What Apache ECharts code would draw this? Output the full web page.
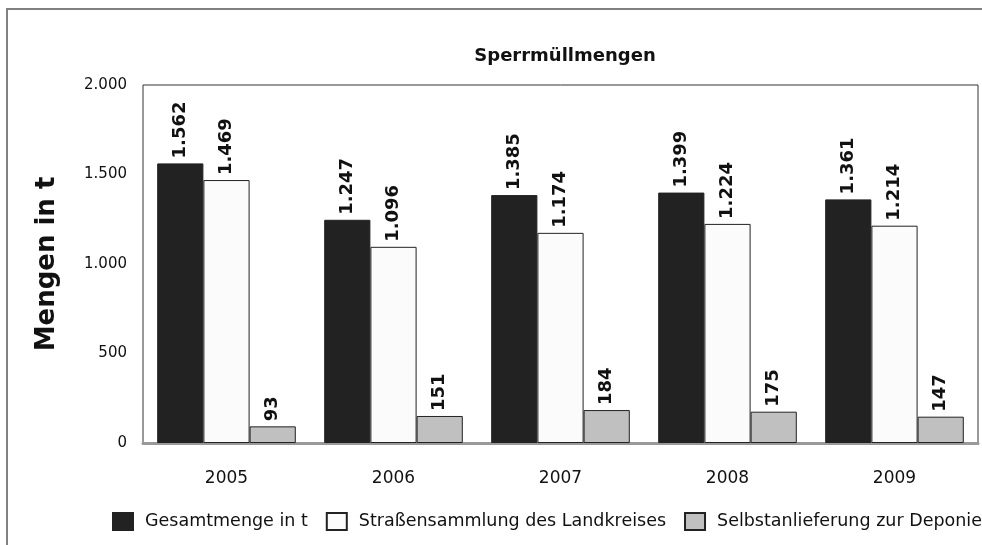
<!DOCTYPE html>
<html>
<head>
<meta charset="utf-8">
<script src="https://cdn.jsdelivr.net/npm/echarts@6/dist/echarts.min.js"></script>
<style>
  html, body { margin: 0; padding: 0; background: #fff; }
  #chart { width: 982px; height: 545px; }
</style>
</head>
<body>
<div id="chart"></div>
<script>
const years = ['2005', '2006', '2007', '2008', '2009']
const gesamt = [1562, 1247, 1385, 1399, 1361]
const strasse = [1469, 1096, 1174, 1224, 1214]
const selbst = [93, 151, 184, 175, 147]
const seriesNames = ['Gesamtmenge in t', 'Straßensammlung des Landkreises', 'Selbstanlieferung zur Deponie']

const chart = echarts.init(document.getElementById('chart'))

const font = 'DejaVu Sans, Arial, sans-serif'

// Zahlen mit Punkt als Tausendertrenner
const fmt = v => String(v).replace(/\B(?=(\d{3})+(?!\d))/g, '.')

const label = {
  show: true,
  position: 'top',
  rotate: 90,
  align: 'left',
  verticalAlign: 'middle',
  distance: 5,
  color: '#111',
  fontSize: 18,
  fontWeight: 'bold',
  fontFamily: font,
  formatter: p => fmt(p.value)
}

const makeBar = (name, data, color) => ({
  name,
  type: 'bar',
  data,
  barGap: 0,
  barCategoryGap: '17%',
  itemStyle: { color, borderColor: '#222', borderWidth: 1 },
  label
})

const option = {
  animation: false,
  textStyle: { fontFamily: font },
  graphic: [
    {
      type: 'rect',
      shape: { x: 7, y: 9, width: 1000, height: 560 },
      style: { fill: 'none', stroke: '#808080', lineWidth: 2 },
      silent: true
    }
  ],
  title: {
    text: 'Sperrmüllmengen',
    left: 560,
    top: 42,
    textAlign: 'center',
    textStyle: { fontSize: 18, fontWeight: 'bold', color: '#111', fontFamily: font }
  },
  legend: {
    data: seriesNames,
    left: 107,
    top: 507,
    width: 1000,
    icon: 'rect',
    itemWidth: 20,
    itemHeight: 17,
    itemGap: 18,
    textStyle: { fontSize: 17.5, color: '#111', fontFamily: font, padding: [0, 0, 0, 7] }
  },
  grid: {
    left: 143,
    right: 4,
    top: 85,
    bottom: 102,
    show: true,
    borderColor: '#333',
    borderWidth: 1
  },
  xAxis: {
    type: 'category',
    data: years,
    axisLine: { lineStyle: { color: '#999', width: 3 } },
    axisTick: { alignWithLabel: true, length: 8, lineStyle: { color: '#333' } },
    axisLabel: { fontSize: 17, color: '#111', margin: 27, fontFamily: font }
  },
  yAxis: {
    type: 'value',
    min: 0,
    max: 2000,
    interval: 500,
    name: 'Mengen in t',
    nameLocation: 'middle',
    nameGap: 83,
    nameTextStyle: { fontSize: 26, fontWeight: 'bold', color: '#111', fontFamily: font },
    splitLine: { show: false },
    axisLine: { show: false },
    axisTick: { show: false },
    axisLabel: { fontSize: 15, color: '#111', margin: 16, formatter: fmt, fontFamily: font }
  },
  series: [
    makeBar(seriesNames[0], gesamt, '#222222'),
    makeBar(seriesNames[1], strasse, '#fbfbfb'),
    makeBar(seriesNames[2], selbst, '#c0c0c0')
  ]
}

chart.setOption(option)
</script>
</body>
</html>
